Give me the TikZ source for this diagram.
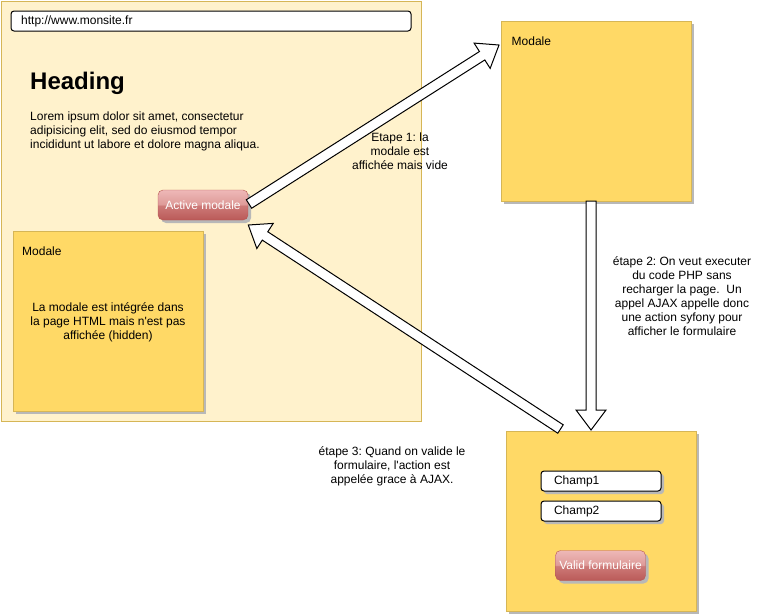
\documentclass[tikz,border=0pt]{standalone}
\usepackage{fontspec}
\setmainfont{Liberation Sans}
\usetikzlibrary{calc,shadows}
\frenchspacing
\definecolor{notefill}{HTML}{FFD966}
\definecolor{notestroke}{HTML}{D6B656}
\definecolor{pagefill}{HTML}{FFF2CC}
\definecolor{btnstroke}{HTML}{B85450}
\definecolor{btnlow}{HTML}{BA5A58}
\definecolor{btnmid}{HTML}{CD7A78}
\definecolor{btnhigh}{HTML}{DE9B99}
\definecolor{btntop}{HTML}{EEB8B7}
\definecolor{shadowgray}{HTML}{B8B8B8}
\pgfdeclareverticalshading{btnglass}{100bp}{color(0bp)=(btnlow); color(25bp)=(btnlow); color(49bp)=(btnmid); color(51bp)=(btnhigh); color(75bp)=(btntop); color(100bp)=(btntop)}
\newcommand{\ftxt}{\fontsize{12}{14}\selectfont}
\newcommand{\blkarrow}[2]{%
  \coordinate (#1h) at ($(#2)!20pt!(#1)$);
  \draw[blockarrow] ($(#1)!5pt!90:(#2)$) -- ($(#1h)!5pt!90:(#2)$) -- ($(#1h)!15pt!90:(#2)$) -- (#2)
    -- ($(#1h)!15pt!-90:(#2)$) -- ($(#1h)!5pt!-90:(#2)$) -- ($(#1)!5pt!-90:(#2)$) -- cycle;}
\tikzset{
  shad/.style={drop shadow={shadow xshift=3pt, shadow yshift=-3pt, fill=shadowgray, opacity=1}},
  page/.style={draw=notestroke, fill=pagefill, line width=1pt, anchor=north west, minimum width=420pt, minimum height=420pt, inner sep=0pt},
  note/.style={draw=notestroke, fill=notefill, line width=1pt, anchor=north west, minimum width=190pt, minimum height=180pt, inner sep=0pt, shad},
  urlbar/.style={draw=black, fill=white, rounded corners=3pt, line width=1pt, anchor=north west, minimum width=400pt, minimum height=20pt, inner sep=0pt},
  field/.style={draw=black, fill=white, rounded corners=3pt, line width=1pt, anchor=north west, minimum width=120pt, minimum height=20pt, text width=94pt, inner xsep=13pt, inner ysep=0pt, align=left, font=\ftxt, shad},
  btn/.style={draw=btnstroke, shading=btnglass, rounded corners=5pt, minimum width=90pt, minimum height=30pt, inner sep=0pt, text=white, font=\ftxt, shad},
  txt/.style={font=\ftxt, inner sep=0pt},
  ctxt/.style={font=\ftxt, inner sep=0pt, align=center},
  blockarrow/.style={draw=black, fill=white, line width=1pt, line join=miter}
}
\begin{document}
\begin{tikzpicture}[x=1pt,y=-1pt]
\useasboundingbox (0,0) rectangle (763,614);
% browser page
\node[page] (page) at (0.5,0.5) {};
\node[urlbar] (url) at (10.5,10.5) {};
\node[txt, anchor=base west] (urltxt) at (21,24.5) {http://www.monsite.fr};
\node[inner sep=0pt, anchor=base west, font=\fontsize{24}{28}\selectfont\bfseries] (heading) at (30,89) {Heading};
\node[txt, anchor=west, align=left] (lorem) at (30,131) {Lorem ipsum dolor sit amet, consectetur\\adipisicing elit, sed do eiusmod tempor\\incididunt ut labore et dolore magna aliqua.};
\node[btn] (active) at (203,205) {Active modale};
% hidden modal in page
\node[note] (m1) at (12.5,230.5) {};
\node[txt, anchor=base west] (m1t) at (22,255) {Modale};
\node[ctxt] (m1body) at (108,322) {La modale est intégrée dans\\la page HTML mais n\textquotesingle est pas\\affichée (hidden)};
% displayed modal
\node[note] (m2) at (500.5,20.5) {};
\node[txt, anchor=base west] (m2t) at (511.5,45) {Modale};
% form modal
\node[note] (m3) at (505.5,430.5) {};
\node[field] (c1) at (540.5,470.5) {Champ1};
\node[field] (c2) at (540.5,500.5) {Champ2};
\node[btn] (valid) at (600.5,565.5) {Valid formulaire};
% arrows
\coordinate (a1s) at (249,204);
\coordinate (a1e) at (499,45);
\coordinate (a2s) at (591,201);
\coordinate (a2e) at (591,430);
\coordinate (a3s) at (560.5,429);
\coordinate (a3e) at (248.3,225);
\blkarrow{a1s}{a1e}
\blkarrow{a2s}{a2e}
\blkarrow{a3s}{a3e}
% step labels
\node[ctxt] (e1) at (400,151) {Etape 1: la\\modale est\\affichée mais vide};
\node[ctxt] (e2) at (682,296) {étape 2: On veut executer\\du code PHP sans\\recharger la page.\ \ Un\\appel AJAX appelle donc\\une action syfony pour\\afficher le formulaire};
\node[ctxt] (e3) at (392,466) {étape 3: Quand on valide le\\formulaire, l\textquotesingle action est\\appelée grace à AJAX.};
\end{tikzpicture}
\end{document}
